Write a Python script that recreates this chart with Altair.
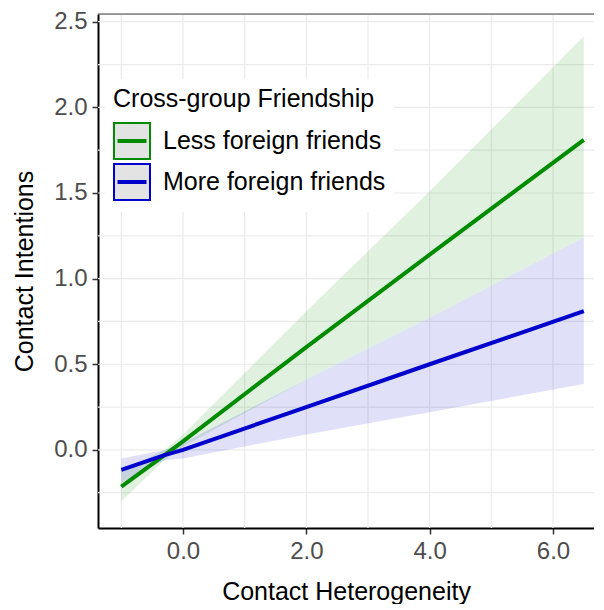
import altair as alt
import pandas as pd

# ---- data ----
x_vals = [-1.0, -0.3, 0.0, 2.0, 4.0, 6.5]
groups = ["Less foreign friends", "More foreign friends"]

less_fit = [-0.215, -0.03, 0.05, 0.60, 1.14, 1.81]
less_lo = [-0.30, -0.06, 0.02, 0.41, 0.77, 1.24]
less_hi = [-0.12, 0.00, 0.09, 0.81, 1.51, 2.415]

more_fit = [-0.117, -0.03, 0.00, 0.25, 0.50, 0.81]
more_lo = [-0.19, -0.06, -0.05, 0.09, 0.22, 0.385]
more_hi = [-0.05, 0.00, 0.04, 0.41, 0.77, 1.24]

x_ticks = [0, 2, 4, 6]
y_ticks = [0.0, 0.5, 1.0, 1.5, 2.0, 2.5]
x_grid = [-1, 0, 1, 2, 3, 4, 5, 6]
y_grid = [-0.25, 0.0, 0.25, 0.5, 0.75, 1.0, 1.25, 1.5, 1.75, 2.0, 2.25, 2.5]

colors = ["#008B00", "#0000CD"]

rows = []
for g, fit, lo, hi in [(groups[0], less_fit, less_lo, less_hi),
                       (groups[1], more_fit, more_lo, more_hi)]:
    for x, f, l, h in zip(x_vals, fit, lo, hi):
        rows.append({"x": x, "fit": f, "lo": l, "hi": h, "group": g})
df = pd.DataFrame(rows)

W, H = 496, 514
xdom = [-1.378, 6.665]
ydom = [-0.456, 2.545]

xscale = alt.Scale(domain=xdom, nice=False, zero=False)
yscale = alt.Scale(domain=ydom, nice=False, zero=False)
cscale = alt.Scale(domain=groups, range=colors)

xgrid_chart = alt.Chart(pd.DataFrame({"g": x_grid})).mark_rule(
    color="#EBEBEB", strokeWidth=1.2
).encode(x=alt.X("g:Q", scale=xscale))

ygrid_chart = alt.Chart(pd.DataFrame({"g": y_grid})).mark_rule(
    color="#EBEBEB", strokeWidth=1.2
).encode(y=alt.Y("g:Q", scale=yscale))

base = alt.Chart(df)


def band(i):
    return base.transform_filter(
        alt.datum.group == groups[i]
    ).mark_area(color=colors[i], opacity=0.12).encode(
        x=alt.X("x:Q", scale=xscale),
        y=alt.Y("lo:Q", scale=yscale),
        y2="hi:Q",
    )


legend = alt.Legend(
    title="Cross-group Friendship",
    orient="none",
    legendX=7,
    legendY=65,
    padding=8,
    fillColor="white",
    titleFontSize=25,
    titleFontWeight="normal",
    titleColor="black",
    titleFont="Liberation Sans",
    titlePadding=10,
    titleLimit=0,
    labelFontSize=25,
    labelFont="Liberation Sans",
    labelColor="black",
    labelOffset=12,
    labelLimit=0,
    symbolType="M-1,-1H1V1H-1Z M-0.75,-0.05H0.75V0.05H-0.75Z",
    symbolSize=1296,
    symbolStrokeWidth=2,
    symbolFillColor="#E3E3E3",
    rowPadding=-7,
)

lines = base.mark_line(strokeWidth=4).encode(
    x=alt.X(
        "x:Q",
        scale=xscale,
        title="Contact Heterogeneity",
        axis=alt.Axis(
            values=x_ticks, format=".1f", grid=False,
            labelFontSize=24, labelColor="#4D4D4D", labelFont="Liberation Sans",
            labelPadding=5, tickSize=6, tickColor="#333333", tickWidth=1.5,
            domainColor="black", domainWidth=2,
            titleFontSize=25, titleFontWeight="normal", titleColor="black",
            titleFont="Liberation Sans", titlePadding=16,
        ),
    ),
    y=alt.Y(
        "fit:Q",
        scale=yscale,
        title="Contact Intentions",
        axis=alt.Axis(
            values=y_ticks, format=".1f", grid=False,
            labelFontSize=24, labelColor="#4D4D4D", labelFont="Liberation Sans",
            labelPadding=5, tickSize=6, tickColor="#333333", tickWidth=1.5,
            domainColor="black", domainWidth=2,
            titleFontSize=25, titleFontWeight="normal", titleColor="black",
            titleFont="Liberation Sans", titlePadding=16,
        ),
    ),
    color=alt.Color("group:N", scale=cscale, legend=legend),
)

top_border = alt.Chart(pd.DataFrame({"a": [0]})).mark_rule(
    color="#444444", strokeWidth=1.2
).encode(x=alt.value(0), x2=alt.value(W), y=alt.value(0))

chart = alt.layer(xgrid_chart, ygrid_chart, band(0), band(1), lines, top_border).properties(
    width=W,
    height=H,
    autosize=alt.AutoSizeParams(type="none"),
    padding={"left": 90, "top": 6, "right": 0, "bottom": 76},
).configure_view(stroke=None).configure(background="white")

chart.save("out.html", embed_options={"renderer": "svg", "actions": False})
